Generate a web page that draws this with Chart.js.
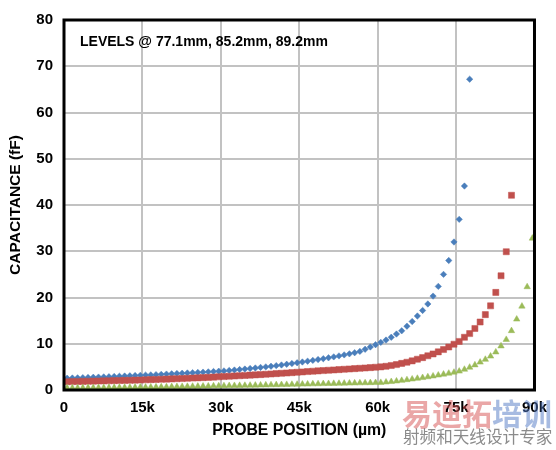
<!DOCTYPE html>
<html>
<head>
<meta charset="utf-8">
<script src="https://cdn.jsdelivr.net/npm/chart.js@4.4.1/dist/chart.umd.min.js"></script>
<style>
  html, body { margin: 0; padding: 0; background: #ffffff; }
  #wrap { position: relative; width: 556px; height: 450px; overflow: hidden; }
  canvas { display: block; }
  .wm1 { position: absolute; left: 402px; top: 397px; font-family: "Noto Sans CJK SC", sans-serif; font-weight: 700; font-size: 30px; line-height: 30px; white-space: nowrap; }
  .wm1 .r { color: rgba(214, 80, 80, 0.5); }
  .wm1 .b { color: rgba(80, 120, 195, 0.5); }
  .wm2 { position: absolute; left: 403px; top: 428px; font-family: "Noto Sans CJK SC", sans-serif; font-weight: 400; font-size: 16.6px; line-height: 17px; color: rgba(110, 110, 110, 0.8); white-space: nowrap; }
</style>
</head>
<body>
<div id="wrap">
  <canvas id="c" width="556" height="450"></canvas>
  <div class="wm1"><span class="r">易迪拓</span><span class="b">培训</span></div>
  <div class="wm2">射频和天线设计专家</div>
</div>
<script>
// ---- data (probe position in k·µm, capacitance in fF) ----
const positionsK = [0.6,1.6,2.6,3.6,4.6,5.6,6.6,7.6,8.6,9.6,10.6,11.6,12.6,13.6,14.6,15.6,16.6,17.6,18.6,19.6,
  20.6,21.6,22.6,23.6,24.6,25.6,26.6,27.6,28.6,29.6,30.6,31.6,32.6,33.6,34.6,35.6,36.6,37.6,38.6,39.6,
  40.6,41.6,42.6,43.6,44.6,45.6,46.6,47.6,48.6,49.6,50.6,51.6,52.6,53.6,54.6,55.6,56.6,57.6,58.6,59.6,
  60.6,61.6,62.6,63.6,64.6,65.6,66.6,67.6,68.6,69.6,70.6,71.6,72.6,73.6,74.6,75.6,76.6,77.6,78.6,79.6,
  80.6,81.6,82.6,83.6,84.6,85.6,86.6,87.6,88.6,89.6];

const level771 = [2.55,2.59,2.63,2.67,2.71,2.75,2.79,2.83,2.87,2.92,2.97,3.02,3.07,3.12,3.17,3.22,
  3.27,3.32,3.38,3.44,3.5,3.56,3.62,3.68,3.74,3.8,3.86,3.92,3.99,4.06,4.13,
  4.22,4.32,4.42,4.53,4.64,4.76,4.88,5.0,5.13,5.27,5.41,5.56,5.72,5.89,6.06,
  6.23,6.4,6.58,6.77,6.96,7.16,7.37,7.59,7.82,8.06,8.35,
  8.8,9.3,9.8,10.3,10.8,11.4,12.1,12.8,13.8,14.8,16.0,17.2,18.6,20.3,22.4,25.0,28.0,32.0,36.9,44.1,67.2];

const level852 = [1.8,1.82,1.85,1.87,1.9,1.92,1.95,1.97,2.0,2.02,2.05,2.08,2.1,2.13,2.16,2.2,
  2.24,2.28,2.32,2.36,2.4,2.44,2.48,2.53,2.58,2.63,2.68,2.73,2.79,2.85,2.91,
  2.97,3.03,3.09,3.15,3.21,3.27,3.33,3.4,3.47,3.54,3.61,3.68,3.75,3.83,3.91,
  3.99,4.06,4.13,4.2,4.27,4.34,4.41,4.48,4.55,4.62,4.69,4.76,4.84,4.92,5.0,
  5.12,5.3,5.5,5.75,6.0,6.3,6.65,7.0,7.4,7.8,8.25,8.75,9.3,9.9,10.5,
  11.4,12.2,13.3,14.7,16.3,18.2,21.1,24.7,29.9,42.1];

const level892 = [0.45,0.46,0.47,0.48,0.49,0.5,0.51,0.52,0.53,0.54,0.55,0.56,0.57,0.58,0.59,0.6,
  0.62,0.64,0.66,0.68,0.7,0.72,0.74,0.76,0.78,0.8,0.82,0.84,0.86,0.88,0.9,
  0.92,0.94,0.96,0.98,1.0,1.02,1.04,1.07,1.1,1.12,1.14,1.17,1.2,1.22,1.25,
  1.27,1.3,1.32,1.35,1.37,1.4,1.42,1.45,1.47,1.5,1.52,1.54,1.56,1.58,
  1.6,1.7,1.8,1.92,2.05,2.2,2.35,2.5,2.66,2.83,3.0,3.2,3.4,3.6,3.82,4.05,
  4.45,4.9,5.4,6.0,6.6,7.3,8.2,9.5,10.9,12.8,15.3,18.1,22.3,32.8];

const xTickValues = [0, 15, 30, 45, 60, 75, 90];
const yTickValues = [0, 10, 20, 30, 40, 50, 60, 70, 80];
const annotationText = 'LEVELS @ 77.1mm, 85.2mm, 89.2mm';
const xTitle = 'PROBE POSITION (\u00B5m)';
const yTitle = 'CAPACITANCE (fF)';

// ---- chart ----
const FONT = '"Liberation Sans", Arial, Helvetica, sans-serif';
const toPoints = (vals) => vals.map((v, i) => ({ x: positionsK[i], y: v }));

const framePlugin = {
  id: 'frame',
  afterDatasetsDraw(chart) {
    const { ctx, chartArea: a } = chart;
    ctx.save();
    ctx.strokeStyle = '#000000';
    ctx.lineWidth = 3;
    ctx.strokeRect(a.left, a.top, a.right - a.left, a.bottom - a.top);
    ctx.fillStyle = '#000000';
    ctx.font = 'bold 14px ' + FONT;
    ctx.textBaseline = 'alphabetic';
    ctx.textAlign = 'left';
    ctx.fillText(annotationText, a.left + 16, a.top + 26);
    ctx.restore();
  }
};

new Chart(document.getElementById('c'), {
  type: 'scatter',
  data: {
    datasets: [
      { label: '77.1mm', data: toPoints(level771), order: 3, pointStyle: 'rectRot', pointRadius: 3.2,
        backgroundColor: '#4a7ebb', borderColor: '#4a7ebb', borderWidth: 0.5 },
      { label: '85.2mm', data: toPoints(level852), order: 2, pointStyle: 'rect', pointRadius: 4.3,
        backgroundColor: '#c0504d', borderColor: '#c0504d', borderWidth: 0.5 },
      { label: '89.2mm', data: toPoints(level892), order: 1, pointStyle: 'triangle', pointRadius: 3.7,
        backgroundColor: '#9bbb59', borderColor: '#9bbb59', borderWidth: 0.5 }
    ]
  },
  options: {
    responsive: false,
    animation: false,
    events: [],
    layout: { padding: { top: 10, right: 20, left: 0, bottom: 0 } },
    plugins: { legend: { display: false }, tooltip: { enabled: false } },
    scales: {
      x: {
        type: 'linear', min: 0, max: 90,
        afterBuildTicks: (s) => { s.ticks = xTickValues.map(v => ({ value: v })); },
        afterFit: (s) => { s.height = 60; },
        grid: { color: '#c2c2c2', lineWidth: 2, drawTicks: false },
        border: { display: false },
        ticks: { color: '#000', padding: 9, maxRotation: 0, font: { family: FONT, size: 15, weight: 'bold' },
          callback: (v) => v === 0 ? '0' : v + 'k' },
        title: { display: true, text: xTitle, color: '#000', padding: { top: 0, bottom: 10 },
          font: { family: FONT, size: 15.8, weight: 'bold' } }
      },
      y: {
        type: 'linear', min: 0, max: 80,
        afterBuildTicks: (s) => { s.ticks = yTickValues.map(v => ({ value: v })); },
        afterFit: (s) => { s.width = 64; },
        grid: { color: '#c2c2c2', lineWidth: 2, drawTicks: false },
        border: { display: false },
        ticks: { color: '#000', padding: 11, font: { family: FONT, size: 15, weight: 'bold' } },
        title: { display: true, text: yTitle, color: '#000', padding: { top: 6, bottom: 0 },
          font: { family: FONT, size: 15.5, weight: 'bold' } }
      }
    }
  },
  plugins: [framePlugin]
});
</script>
</body>
</html>
